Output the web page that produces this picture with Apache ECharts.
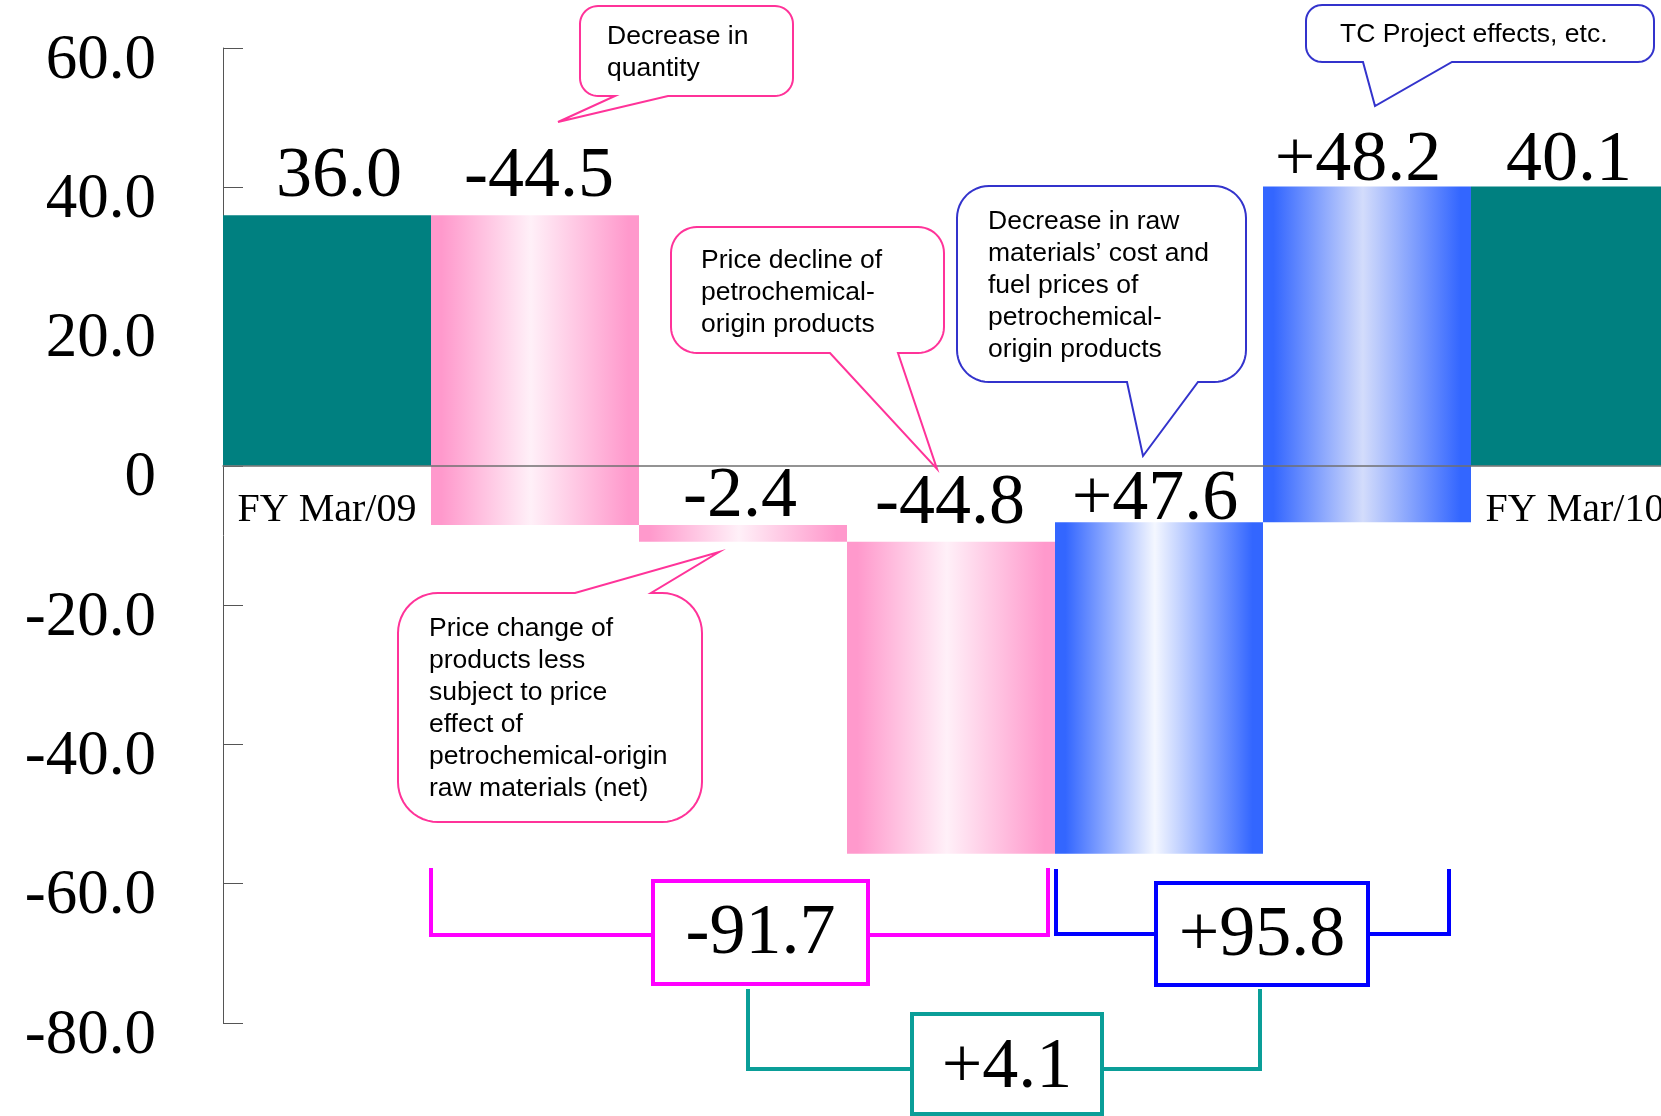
<!DOCTYPE html>
<html>
<head>
<meta charset="utf-8">
<script src="https://cdn.jsdelivr.net/npm/echarts@6/dist/echarts.min.js"></script>
<style>
  html, body { margin: 0; padding: 0; background: #fff; overflow: hidden; }
  /* the last column runs past the right edge of the page */
  #chart { width: 1679px; height: 1116px; }
</style>
</head>
<body>
<div id="chart"></div>
<script>
// Operating income bridge: FY Mar/09 -> FY Mar/10 (billion yen)
const categories = ['FY Mar/09', 'Quantity', 'Price (other products)', 'Price (petrochemical)',
                    'Raw materials & fuel', 'TC Project, etc.', 'FY Mar/10'];
const startTotal = 36.0;
const endTotal = 40.1;
const changes = [-44.5, -2.4, -44.8, 47.6, 48.2];
const yMin = -80, yMax = 60, yStep = 20;

const calloutQuantity = 'Decrease in\nquantity';
const calloutPetroPrice = 'Price decline of\npetrochemical-\norigin products';
const calloutOtherPrice = 'Price change of\nproducts less\nsubject to price\neffect of\npetrochemical-origin\nraw materials (net)';
const calloutRawCost = 'Decrease in raw\nmaterials\u2019 cost and\nfuel prices of\npetrochemical-\norigin products';
const calloutTC = 'TC Project effects, etc.';

// ---- derived bar ranges: [index, from, to, label] ----
const signed = v => (v > 0 ? '+' : '') + v.toFixed(1);
const bars = [];
let level = startTotal;
bars.push([0, 0, startTotal, startTotal.toFixed(1)]);
changes.forEach((d, k) => {
  const prev = level;
  level = Math.round((level + d) * 10) / 10;
  bars.push([k + 1, prev, level, signed(d)]);
});
bars.push([categories.length - 1, 0, endTotal, endTotal.toFixed(1)]);

const downSum = Math.round((changes[0] + changes[1] + changes[2]) * 10) / 10;
const upSum = Math.round((changes[3] + changes[4]) * 10) / 10;
const netChange = Math.round((endTotal - startTotal) * 10) / 10;

// ---- styling ----
const SERIF = '"Liberation Serif", "Times New Roman", serif';
const SANS = '"Liberation Sans", Arial, sans-serif';
const TEAL = '#008080';
const PINK_EDGE = '#ff99cc', BLUE_EDGE = '#3366ff';
function band(edge, center) {
  return new echarts.graphic.LinearGradient(0, 0, 1, 0, [
    { offset: 0, color: edge }, { offset: 0.05, color: edge },
    { offset: 0.48, color: center },
    { offset: 0.95, color: edge }, { offset: 1, color: edge }]);
}
const barFills = [TEAL, band(PINK_EDGE, '#fff0f8'), band(PINK_EDGE, '#fff0f8'), band(PINK_EDGE, '#fff0f8'),
                  band(BLUE_EDGE, '#f4f7ff'), band(BLUE_EDGE, '#d3dcfb'), TEAL];
// label offset from bar centre / bar top (dx, dy)
const labelNudge = [[12, -38], [4, -38], [-3, -28], [-1, -38], [-4, -22], [-9, -25], [-6, -25]];

function renderBar(params, api) {
  const i = api.value(0);
  const a = api.coord([i, api.value(1)]);
  const b = api.coord([i, api.value(2)]);
  const w = api.size([1, 0])[0];
  const top = Math.min(a[1], b[1]);
  const h = Math.abs(a[1] - b[1]);
  const nudge = labelNudge[i];
  return {
    type: 'group',
    children: [
      { type: 'rect', shape: { x: a[0] - w / 2, y: top, width: w, height: h },
        style: { fill: barFills[i] } },
      { type: 'text', z2: 10,
        style: { text: bars[i][3], x: a[0] + nudge[0], y: top + nudge[1],
          fontFamily: SERIF, fontSize: 72, fill: '#000', align: 'center', verticalAlign: 'middle' } }
    ]
  };
}

// speech bubble outline as a polygon: rounded box with a pointed tail on its top or bottom edge
function arcPts(cx, cy, r, a0, a1) {
  const pts = [];
  for (let s = 0; s <= 12; s++) {
    const t = a0 + (a1 - a0) * s / 12;
    pts.push([cx + r * Math.cos(t), cy + r * Math.sin(t)]);
  }
  return pts;
}
function bubblePoints(x, y, w, h, r, side, ta, tb, tip) {
  const R = x + w, B = y + h, P = Math.PI;
  let pts = [];
  pts = pts.concat(arcPts(x + r, y + r, r, P, 1.5 * P));           // top-left
  if (side === 'top') pts.push([ta, y], tip, [tb, y]);
  pts = pts.concat(arcPts(R - r, y + r, r, 1.5 * P, 2 * P));       // top-right
  pts = pts.concat(arcPts(R - r, B - r, r, 0, 0.5 * P));           // bottom-right
  if (side === 'bottom') pts.push([tb, B], tip, [ta, B]);
  pts = pts.concat(arcPts(x + r, B - r, r, 0.5 * P, P));           // bottom-left
  return pts;
}
function callout(box, tail, color, text, textX, firstLineY) {
  return [
    { type: 'polygon', z: 100,
      shape: { points: bubblePoints(box[0], box[1], box[2], box[3], box[4], tail[0], tail[1], tail[2], tail[3]) },
      style: { fill: '#fff', stroke: color, lineWidth: 2 } },
    { type: 'text', z: 101,
      style: { text: text, x: textX, y: firstLineY - 16, fontFamily: SANS, fontSize: 26.5, lineHeight: 32,
        fill: '#000', align: 'left', verticalAlign: 'top' } }
  ];
}
function bracket(points, box, color, lw, value, textY) {
  return [
    { type: 'polyline', z: 100, shape: { points: points[0] }, style: { stroke: color, lineWidth: lw, fill: 'none' } },
    { type: 'polyline', z: 100, shape: { points: points[1] }, style: { stroke: color, lineWidth: lw, fill: 'none' } },
    { type: 'rect', z: 100, shape: { x: box[0], y: box[1], width: box[2], height: box[3] },
      style: { fill: '#fff', stroke: color, lineWidth: lw } },
    { type: 'text', z: 101,
      style: { text: value, x: box[0] + box[2] / 2, y: textY, fontFamily: SERIF, fontSize: 72,
        fill: '#000', align: 'center', verticalAlign: 'middle' } }
  ];
}

const PINK_LINE = '#ff3399', BLUE_LINE = '#3333cc';
const graphics = [].concat(
  callout([580, 6, 213, 90, 18], ['bottom', 615, 668, [558, 122]], PINK_LINE, calloutQuantity, 607, 36.5),
  callout([671, 227, 273, 126, 26], ['bottom', 830, 898, [937, 469]], PINK_LINE, calloutPetroPrice, 701, 260.7),
  callout([398, 593, 304, 229, 40], ['top', 575, 651, [719, 552]], PINK_LINE, calloutOtherPrice, 429, 628.7),
  callout([957, 186, 289, 196, 32], ['bottom', 1127, 1198, [1143, 456]], BLUE_LINE, calloutRawCost, 988, 221.7),
  callout([1306, 5, 348, 57, 16], ['bottom', 1363, 1452, [1375, 106]], BLUE_LINE, calloutTC, 1340, 34.7),
  bracket([[[431, 868], [431, 935], [653, 935]], [[868, 935], [1048, 935], [1048, 868]]],
          [653, 881, 215, 103], '#ff00ff', 4, signed(downSum), 934),
  bracket([[[1056, 869], [1056, 934], [1156, 934]], [[1368, 934], [1449, 934], [1449, 869]]],
          [1156, 883, 212, 102], '#0000ff', 4, signed(upSum), 936),
  bracket([[[748, 989], [748, 1069], [912, 1069]], [[1102, 1069], [1260, 1069], [1260, 989]]],
          [912, 1014, 190, 100], '#0a9e98', 4, signed(netChange), 1068)
);

const GRID_TOP = 48, GRID_H = 975;
const zeroFromBottom = GRID_H * (0 - yMin) / (yMax - yMin);

const chart = echarts.init(document.getElementById('chart'));
chart.setOption({
  animation: false,
  backgroundColor: '#fff',
  grid: { left: 223, top: GRID_TOP, right: 0, height: GRID_H, containLabel: false },
  xAxis: {
    type: 'category',
    data: categories,
    z: 5,
    // category axis sits on the zero level, with its labels just beneath it
    offset: -zeroFromBottom,
    axisLine: { onZero: false, lineStyle: { color: '#707070', width: 1.5 } },
    axisTick: { show: false },
    axisLabel: {
      interval: 0, margin: 25, fontFamily: SERIF, fontSize: 40, color: '#000',
      formatter: (v, i) => (i === 0 || i === categories.length - 1) ? v : ''
    },
    splitLine: { show: false }
  },
  yAxis: {
    type: 'value', min: yMin, max: yMax, interval: yStep,
    axisLine: { show: true, lineStyle: { color: '#555', width: 1 } },
    axisTick: { show: true, inside: true, length: 20, lineStyle: { color: '#555', width: 1 } },
    splitLine: { show: false },
    axisLabel: {
      margin: 67, fontFamily: SERIF, fontSize: 63, color: '#000',
      verticalAlign: 'top', lineHeight: 26,
      formatter: v => v === 0 ? '0' : v.toFixed(1)
    }
  },
  series: [{
    type: 'custom',
    renderItem: renderBar,
    encode: { x: 0, y: [1, 2] },
    data: bars,
    clip: false
  }],
  graphic: graphics
});
</script>
</body>
</html>
